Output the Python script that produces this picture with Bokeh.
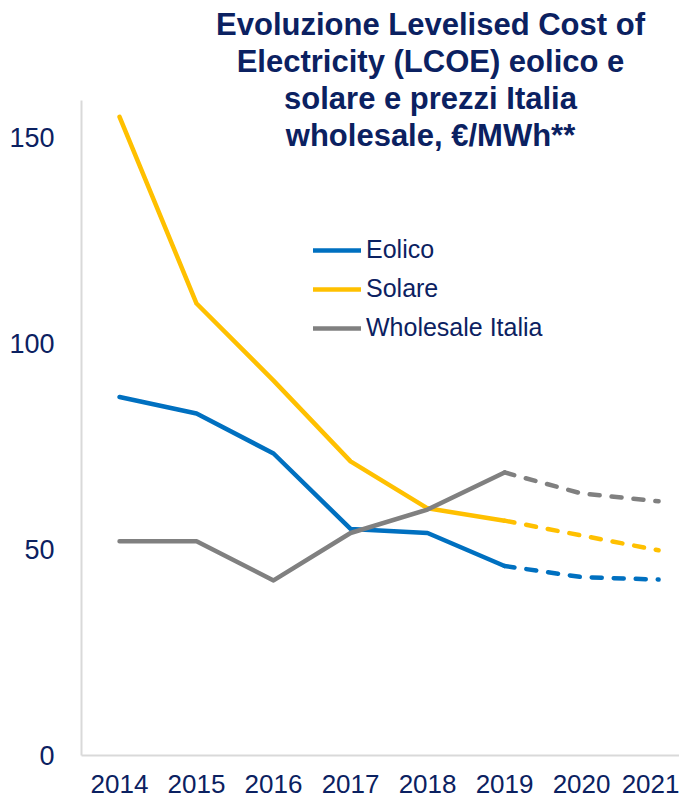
from bokeh.plotting import figure
from bokeh.models import Label, Legend, LegendItem, FixedTicker, Range1d
from bokeh.embed import file_html
from bokeh.resources import INLINE

years = [2014, 2015, 2016, 2017, 2018, 2019, 2020, 2021]
eolico = [87, 83, 73.3, 55, 54, 46, 43.3, 42.7]
solare = [155, 109.7, 91, 71.4, 60, 57, 53.4, 49.8]
wholesale = [52, 52, 42.5, 54, 59.7, 68.7, 63.6, 61.7]
y_ticks = [0, 50, 100, 150]
title_lines = ["Evoluzione Levelised Cost of", "Electricity (LCOE) eolico e",
               "solare e prezzi Italia", "wholesale, €/MWh**"]
split = 5  # index of 2019, after which values are forecasts (dashed)

NAVY = "#0B2161"
FONT = "Liberation Sans"

p = figure(width=679, height=798, output_backend="svg", toolbar_location=None,
           x_range=Range1d(2013.506, 2021.272), y_range=Range1d(0, 183.25),
           min_border_left=81, min_border_right=0, min_border_top=0, min_border_bottom=43)
p.title.visible = False
p.outline_line_color = None
p.xgrid.visible = False
p.ygrid.visible = False
p.background_fill_color = "white"

for ax in (p.xaxis[0], p.yaxis[0]):
    ax.axis_line_color = "#d9d9d9"
    ax.axis_line_width = 2
    ax.major_tick_line_color = None
    ax.minor_tick_line_color = None
    ax.major_label_text_color = NAVY
    ax.major_label_text_font = FONT
p.xaxis.major_label_text_font_size = "26px"
p.yaxis.major_label_text_font_size = "27px"
p.yaxis.bounds = (0, 159)
p.xaxis.ticker = FixedTicker(ticks=years)
p.yaxis.ticker = FixedTicker(ticks=y_ticks)
p.xaxis.major_label_standoff = 13
p.yaxis.major_label_standoff = 21

series = [("Eolico", eolico, "#0070C0"), ("Solare", solare, "#FFC000"),
          ("Wholesale Italia", wholesale, "#808080")]
items = []
for name, vals, col in series:
    r = p.line(years[:split + 1], vals[:split + 1], line_color=col, line_width=4.5,
               line_join="round", line_cap="round")
    p.line(years[split:], vals[split:], line_color=col, line_width=4.5,
           line_dash="10 12", line_cap="round", line_join="round")
    items.append(LegendItem(label=name, renderers=[r]))

legend = Legend(items=items, location=(232, 413), border_line_color=None,
                background_fill_alpha=0, padding=0, margin=0, spacing=10,
                glyph_width=48, glyph_height=28, label_height=28, label_standoff=5,
                label_text_font=FONT, label_text_font_size="25px", label_text_color=NAVY)
p.add_layout(legend, "center")

for i, t in enumerate(title_lines):
    p.add_layout(Label(x=349, y=731 - 37 * i, x_units="screen", y_units="screen",
                       text=t, text_align="center", text_baseline="middle",
                       text_font=FONT, text_font_style="bold", text_font_size="31px",
                       text_color=NAVY))

open("out.html", "w").write(file_html(p, INLINE))
